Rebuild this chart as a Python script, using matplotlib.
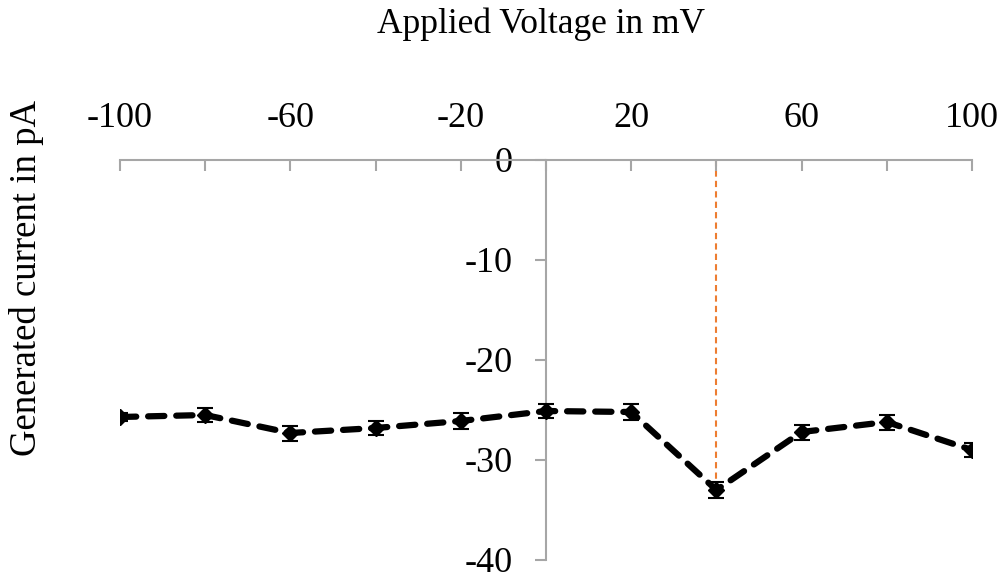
import numpy as np
import matplotlib.pyplot as plt

plt.rcParams['font.family'] = ['Liberation Serif', 'DejaVu Serif']
plt.rcParams['axes.unicode_minus'] = False

voltage = [-100, -80, -60, -40, -20, 0, 20, 40, 60, 80, 100]
current = [-25.7, -25.5, -27.3, -26.8, -26.1, -25.1, -25.2, -33.0, -27.2, -26.2, -29.0]
current_err = [0.4, 0.7, 0.75, 0.7, 0.8, 0.7, 0.8, 0.8, 0.75, 0.75, 0.7]
peak_voltage = 40

fig = plt.figure(figsize=(10.03, 5.76), dpi=100)
ax = fig.add_axes([120 / 1003, 1 - 560 / 576, 852 / 1003, 400 / 576])

# reference line down to the peak
peak_current = current[voltage.index(peak_voltage)]
ax.plot([peak_voltage, peak_voltage], [0, peak_current], color='#ED7D31',
		linestyle=(0, (3, 2)), linewidth=1.5, zorder=1)

line, caps, bars = ax.errorbar(voltage, current, yerr=current_err, color='black',
							   linestyle='--', dashes=(2.6, 1.9), linewidth=4.5,
							   marker='D', markersize=8.5, ecolor='black', elinewidth=1.5,
							   capsize=5.5, capthick=1.5, zorder=3)
line.set_dash_capstyle('round')

ax.set_xlim(-100, 100)
ax.set_ylim(-40, 0)

ax.spines['bottom'].set_visible(False)
ax.spines['right'].set_visible(False)
ax.spines['left'].set_position(('data', 0))
for s in ['top', 'left']:
	ax.spines[s].set_color('#a6a6a6')
	ax.spines[s].set_linewidth(1.5)

ax.xaxis.set_ticks_position('top')
ax.set_xticks(np.arange(-100, 101, 20))
ax.set_xticklabels([str(v) if (v + 100) % 40 == 0 else '' for v in range(-100, 101, 20)])
ax.tick_params(axis='x', direction='in', length=8, width=1.5, color='#a6a6a6',
			   labelsize=26, pad=18)
ax.set_yticks(np.arange(-40, 1, 10))
ax.tick_params(axis='y', direction='out', length=8, width=1.5, color='#a6a6a6',
			   labelsize=26, pad=16)

fig.text(541 / 1003, 1 - 24 / 576, 'Applied Voltage in mV', ha='center', va='center', fontsize=25.5)
fig.text(27 / 1003, 1 - 278 / 576, 'Generated current in pA', ha='center', va='center',
		 rotation=90, fontsize=26.5)

fig.savefig('out.png', dpi=100)
